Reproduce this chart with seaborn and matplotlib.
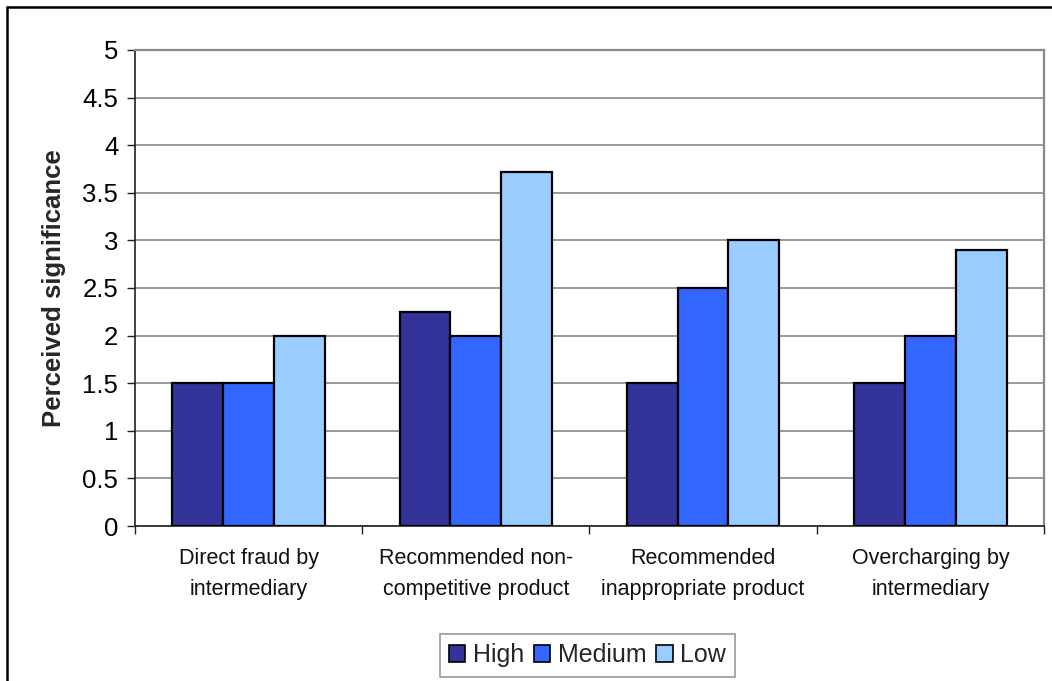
import matplotlib
matplotlib.use("Agg")
import matplotlib.pyplot as plt
from matplotlib.lines import Line2D
from matplotlib.ticker import FixedLocator
import numpy as np
import pandas as pd
import seaborn as sns

# Risk categories and perceived significance by respondent group
categories = [
    "Direct fraud by\nintermediary",
    "Recommended non-\ncompetitive product",
    "Recommended\ninappropriate product",
    "Overcharging by\nintermediary",
]
groups = ["High", "Medium", "Low"]
high = [1.5, 2.25, 1.5, 1.5]
medium = [1.5, 2.0, 2.5, 2.0]
low = [2.0, 3.72, 3.0, 2.9]
y_ticks = [0, 0.5, 1, 1.5, 2, 2.5, 3, 3.5, 4, 4.5, 5]
y_tick_labels = ["0", "0.5", "1", "1.5", "2", "2.5", "3", "3.5", "4", "4.5", "5"]

palette = {"High": "#333399", "Medium": "#3366FF", "Low": "#99CCFF"}

df = pd.DataFrame({
    "category": categories * 3,
    "group": ["High"] * 4 + ["Medium"] * 4 + ["Low"] * 4,
    "value": high + medium + low,
})

sns.set_theme(style="white")
plt.rcParams["font.family"] = ["Liberation Sans", "DejaVu Sans"]

fig = plt.figure(figsize=(10.52, 6.81), dpi=100)
ax = fig.add_axes([0.1283, 0.2276, 0.8641, 0.699])

sns.barplot(
    data=df, x="category", y="value", hue="group",
    order=categories, hue_order=groups, palette=palette,
    width=0.67, saturation=1, edgecolor="black", linewidth=1.6,
    errorbar=None, ax=ax, legend=True, zorder=3,
)

ax.set_ylim(0, 5)
ax.set_xlim(-0.5, 3.5)
ax.set_yticks(y_ticks)
ax.set_yticklabels(y_tick_labels)
ax.yaxis.grid(True, color="#7f7f7f", linewidth=1.1, zorder=0)
ax.set_axisbelow(True)

ax.set_xlabel("")
ax.set_ylabel("Perceived significance", fontsize=18.5, fontweight="bold", labelpad=12)

ax.tick_params(axis="y", which="major", left=True, length=6, width=1, color="#202020",
               pad=6, labelsize=18.5, labelcolor="black")
ax.xaxis.set_minor_locator(FixedLocator([-0.5, 0.5, 1.5, 2.5, 3.5]))
ax.tick_params(axis="x", which="major", bottom=False, length=0, pad=16,
               labelsize=15.5, labelcolor="#111111")
ax.tick_params(axis="x", which="minor", bottom=True, length=6, width=1, color="#202020")
for lbl in ax.get_xticklabels():
    lbl.set_linespacing(1.6)

for side in ["left", "bottom"]:
    ax.spines[side].set_color("#202020")
    ax.spines[side].set_linewidth(1.2)
for side in ["top", "right"]:
    ax.spines[side].set_color("#8a8a8a")
    ax.spines[side].set_linewidth(1.6)

leg = ax.legend(
    loc="center", bbox_to_anchor=(0.5585, 0.038), bbox_transform=fig.transFigure,
    ncol=3, frameon=True, fancybox=False, edgecolor="#7f7f7f",
    fontsize=18, handlelength=0.65, handleheight=0.65, handletextpad=0.3,
    columnspacing=0.4, borderpad=0.38,
)
leg.get_frame().set_linewidth(1.2)
for h in leg.legend_handles:
    h.set_edgecolor("black")
    h.set_linewidth(1.2)

# Outer chart frame (top and left edges)
fig.add_artist(Line2D([0.0067, 1.0], [0.9897, 0.9897], transform=fig.transFigure,
                      color="black", linewidth=1.8))
fig.add_artist(Line2D([0.0067, 0.0067], [0.0, 0.9897], transform=fig.transFigure,
                      color="black", linewidth=1.8))

fig.savefig("out.png", dpi=100, facecolor="white")
